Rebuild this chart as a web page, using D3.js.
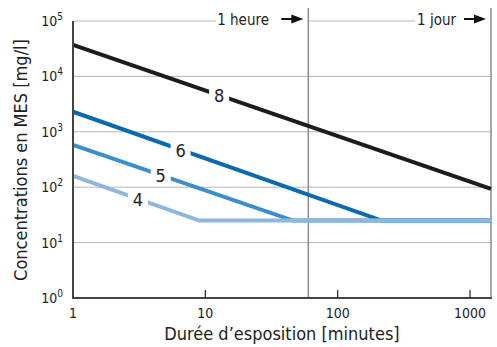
<!DOCTYPE html>
<html>
<head>
<meta charset="utf-8">
<script src="https://cdn.jsdelivr.net/npm/d3@7"></script>
<style>
  body { margin: 0; background: #fff; }
  svg { display: block; }
  text { font-family: "Liberation Sans Narrow", "DejaVu Sans Condensed", "Roboto", sans-serif; fill: #222; }
</style>
</head>
<body>
<svg id="chart" width="497" height="347"></svg>
<script>
// Exposure duration (minutes) vs. suspended-solids concentration (mg/l)
const seriesNames = ["8", "6", "5", "4"];
const seriesColors = ["#1c1c1c", "#0b6aae", "#3a8ecb", "#8fb6dc"];
const series8 = [[1, 37000], [1440, 93]];
const series6 = [[1, 2300], [215, 25], [1440, 25]];
const series5 = [[1, 580], [46, 25], [1440, 25]];
const series4 = [[1, 160], [9, 25], [1440, 25]];
const seriesData = [series8, series6, series5, series4];
// where each curve label sits along the x axis (minutes)
const labelAt = [12.7, 6.5, 4.6, 3.1];

const xTicks = [1, 10, 100, 1000];
const xTickLabels = ["1", "10", "100", "1000"];
const yTicks = [1, 10, 100, 1000, 10000, 100000];
const yExponents = ["0", "1", "2", "3", "4", "5"];
const markers = [{ t: 60, label: "1 heure" }, { t: 1440, label: "1 jour" }];

const svg = d3.select("#chart");
const plotLeft = 73, plotRight = 491, plotTop = 21, plotBottom = 298;

const x = d3.scaleLog().domain([1, 1440]).range([plotLeft, plotRight]);
const y = d3.scaleLog().domain([1, 100000]).range([plotBottom, plotTop]);

// horizontal gridlines
svg.append("g").selectAll("line")
  .data(yTicks.slice(1, 5))
  .join("line")
  .attr("x1", plotLeft).attr("x2", plotRight)
  .attr("y1", d => y(d)).attr("y2", d => y(d))
  .attr("stroke", "#b5b5b5").attr("stroke-width", 1);

// top gridline broken by the "1 heure" / "1 jour" annotations
svg.append("line").attr("x1", plotLeft).attr("x2", 216)
  .attr("y1", y(100000)).attr("y2", y(100000))
  .attr("stroke", "#b5b5b5").attr("stroke-width", 1);
svg.append("line").attr("x1", x(60)).attr("x2", 415)
  .attr("y1", y(100000)).attr("y2", y(100000))
  .attr("stroke", "#b5b5b5").attr("stroke-width", 1);

// vertical markers at one hour and one day
svg.append("g").selectAll("line")
  .data(markers)
  .join("line")
  .attr("x1", d => x(d.t)).attr("x2", d => x(d.t))
  .attr("y1", 8).attr("y2", plotBottom)
  .attr("stroke", "#8a8a8a").attr("stroke-width", 1.5);

// marker labels with arrows
const arrow = (g, xEnd, yc) => {
  g.append("line").attr("x1", xEnd - 24).attr("x2", xEnd - 10)
    .attr("y1", yc).attr("y2", yc).attr("stroke", "#111").attr("stroke-width", 2);
  g.append("path")
    .attr("d", `M${xEnd - 2},${yc} L${xEnd - 14},${yc - 4.5} L${xEnd - 14},${yc + 4.5} Z`)
    .attr("fill", "#111");
};
const ann = svg.append("g");
ann.append("text").attr("x", 269).attr("y", 25).attr("text-anchor", "end")
  .attr("font-size", 15).text(markers[0].label);
arrow(ann, x(60) - 3, 19);
ann.append("text").attr("x", 456).attr("y", 25).attr("text-anchor", "end")
  .attr("font-size", 15).text(markers[1].label);
arrow(ann, x(1440) - 3, 19);

// series lines
const line = d3.line().x(d => x(d[0])).y(d => y(d[1]));
seriesData.forEach((pts, i) => {
  svg.append("path")
    .datum(pts)
    .attr("d", line)
    .attr("fill", "none")
    .attr("stroke", seriesColors[i])
    .attr("stroke-width", 4);
});

// curve labels: a white gap in the line with the number inside
const valueAt = (pts, t) => {
  const lt = Math.log10(t);
  for (let k = 0; k < pts.length - 1; k++) {
    const a = pts[k], b = pts[k + 1];
    const la = Math.log10(a[0]), lb = Math.log10(b[0]);
    if (lt >= la && lt <= lb) {
      const f = (lt - la) / (lb - la);
      return Math.pow(10, Math.log10(a[1]) + f * (Math.log10(b[1]) - Math.log10(a[1])));
    }
  }
  return pts[pts.length - 1][1];
};
seriesData.forEach((pts, i) => {
  const cx = x(labelAt[i]), cy = y(valueAt(pts, labelAt[i]));
  svg.append("rect").attr("x", cx - 10).attr("y", cy - 10)
    .attr("width", 20).attr("height", 20).attr("fill", "#fff");
  svg.append("text").attr("x", cx).attr("y", cy + 7)
    .attr("text-anchor", "middle").attr("font-size", 18)
    .attr("fill", "#222").text(seriesNames[i]);
});

// axes
svg.append("line").attr("x1", plotLeft).attr("x2", plotLeft).attr("y1", plotTop).attr("y2", plotBottom)
  .attr("stroke", "#444").attr("stroke-width", 2);
svg.append("line").attr("x1", plotLeft - 1).attr("x2", plotRight + 1).attr("y1", plotBottom).attr("y2", plotBottom)
  .attr("stroke", "#444").attr("stroke-width", 2);

// x ticks (inside) and labels
svg.append("g").selectAll("line")
  .data(xTicks.slice(1))
  .join("line")
  .attr("x1", d => x(d)).attr("x2", d => x(d))
  .attr("y1", plotBottom).attr("y2", plotBottom - 8)
  .attr("stroke", "#222").attr("stroke-width", 1.2);
svg.append("g").selectAll("text")
  .data(xTicks)
  .join("text")
  .attr("x", d => x(d)).attr("y", 318)
  .attr("text-anchor", "middle").attr("font-size", 14)
  .attr("fill", "#333")
  .text((d, i) => xTickLabels[i]);

// y tick labels as powers of ten
const yl = svg.append("g").selectAll("text")
  .data(yTicks)
  .join("text")
  .attr("x", 63).attr("y", d => y(d) + 5)
  .attr("text-anchor", "end").attr("font-size", 14).attr("fill", "#333");
yl.append("tspan").text("10");
yl.append("tspan").attr("dy", -6).attr("font-size", 10).text((d, i) => yExponents[i]);

// axis titles
svg.append("text").attr("x", 282).attr("y", 340)
  .attr("text-anchor", "middle").attr("font-size", 18)
  .text("Durée d’esposition [minutes]");
svg.append("text")
  .attr("transform", "translate(27,160) rotate(-90)")
  .attr("text-anchor", "middle").attr("font-size", 18)
  .text("Concentrations en MES [mg/l]");
</script>
</body>
</html>
